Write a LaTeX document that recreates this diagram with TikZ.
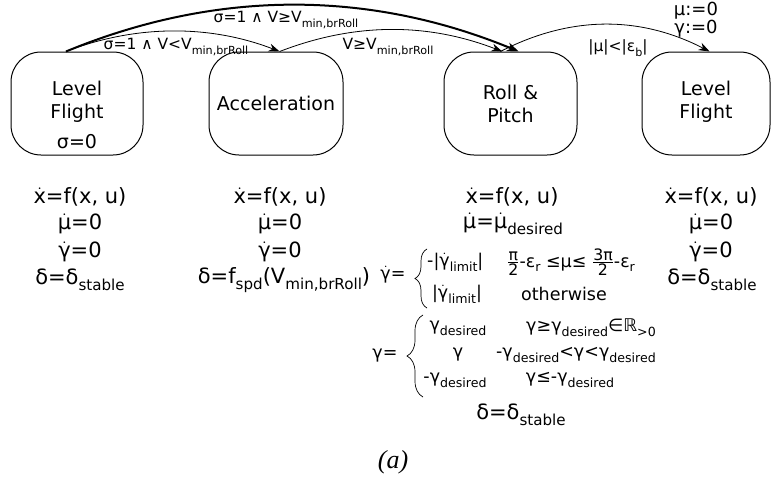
\documentclass[tikz,border=0pt]{standalone}
\usepackage{amsmath}
\usepackage{fontspec}
\setmainfont{DejaVu Sans}
\newfontfamily\capfont{Liberation Serif}
\usetikzlibrary{arrows.meta,decorations.pathreplacing}

% lowered, reduced index text
\newcommand\sbx[1]{\raisebox{-0.28em}{\scalebox{0.72}{#1}}}
% time derivative: dot over a symbol (dot kept out of the line height)
\newcommand\dt[1]{\ensuremath{\smash[t]{\dot{\hbox{#1}}}}\vphantom{#1}}
% stacked fraction built from text symbols
\newcommand\fr[2]{\ensuremath{\genfrac{}{}{0.7pt}{}{\hbox{\scalebox{0.9}{#1}}}{\hbox{\scalebox{0.9}{#2}}}}}

\begin{document}
\begin{tikzpicture}[x=1pt, y=-1pt,
  box/.style={draw, line width=1pt, rounded corners=30pt, minimum height=103pt, inner sep=0pt},
  lbl/.style={font=\fontsize{19}{23}\selectfont, align=center, inner sep=0pt},
  eq/.style={font=\fontsize{21}{26}\selectfont, inner sep=0pt},
  cs/.style={font=\fontsize{17.5}{20}\selectfont, inner sep=0pt},
  trl/.style={font=\fontsize{15.5}{17}\selectfont, inner sep=0pt, align=center},
  arr/.style={line width=0.8pt, -{Stealth[length=11pt,width=8pt]}},
  thickarr/.style={line width=2pt, -{Stealth[length=12pt,width=9pt]}},
  brc/.style={line width=0.7pt, decorate}]
\useasboundingbox (0,0) rectangle (771,482);

% states
\node[box, minimum width=132pt] (b1) at (77,103.5) {};
\node[box, minimum width=134pt] (b2) at (276,103.5) {};
\node[box, minimum width=133pt] (b3) at (510.5,103.5) {};
\node[box, minimum width=128pt] (b4) at (706,103.5) {};

\node[lbl] (l1) at (77,101.5) {Level\\Flight};
\node[lbl] (s1) at (77,142) {σ=0};
\node[lbl] (l2) at (276,103) {Acceleration};
\node[lbl] (l3) at (510.5,103.5) {Roll \&\\Pitch};
\node[lbl] (l4) at (706,101.5) {Level\\Flight};

% transitions
\draw[arr] (b1.102) .. controls +(70,-27) and +(-70,-27) .. (b2.86);
\draw[thickarr] (b1.102) .. controls +(150,-62) and +(-150,-62) .. (b3.81);
\draw[arr] (b2.86) .. controls +(75,-29) and +(-75,-29) .. (b3.99);
\draw[arr] (b3.101) .. controls +(70,-36) and +(-70,-36) .. (b4.86);

\node[trl] (t1) at (286,20) {σ=1 ∧ V≥V\sbx{min,brRoll}};
\node[trl] (t2) at (176,47) {σ=1 ∧ V<V\sbx{min,brRoll}};
\node[trl] (t3) at (388,47) {V≥V\sbx{min,brRoll}};
\node[trl] (t4) at (618,48) {|μ|<|ε\sbx{b}|};
\node[trl, font=\fontsize{18}{18}\selectfont] (t5) at (696,20) {μ:=0\\γ:=0};

% Level Flight dynamics
\node[eq] (a1) at (80,197) {\dt{x}=f(x, u)};
\node[eq] (a2) at (80,224) {\dt{μ}=0};
\node[eq] (a3) at (80,252) {\dt{γ}=0};
\node[eq] (a4) at (80,280) {δ=δ\sbx{stable}};

% Acceleration dynamics
\node[eq] (c1) at (280,197) {\dt{x}=f(x, u)};
\node[eq] (c2) at (280,224) {\dt{μ}=0};
\node[eq] (c3) at (280,252) {\dt{γ}=0};
\node[eq] (c4) at (284,280) {δ=f\sbx{spd}(V\sbx{min,brRoll})};

% Roll & Pitch dynamics
\node[eq] (r1) at (512,197) {\dt{x}=f(x, u)};
\node[eq] (r2) at (513,226) {\dt{μ}=\dt{μ}\sbx{desired}};

\node[cs] (gd) at (393,277) {\dt{γ}=};
\draw[brc, decoration={brace, amplitude=12pt}] (427,308) -- (427,249);
\node[cs, anchor=west] (gda) at (427,262) {-|\dt{γ}\sbx{limit}|};
\node[cs] (gdc) at (571,262) {\fr{π}{2}-ε\sbx{r} ≤μ≤ \fr{3π}{2}-ε\sbx{r}};
\node[cs] (gdb) at (457,294) {|\dt{γ}\sbx{limit}|};
\node[cs] (gdo) at (564,294) {otherwise};

\node[cs] (gg) at (385,356) {γ=};
\draw[brc, decoration={brace, amplitude=16pt}] (423,397) -- (423,315);
\node[cs] (gg1) at (458,328) {γ\sbx{desired}};
\node[cs] (gc1) at (591,328) {γ≥γ\sbx{desired}∈ℝ\sbx{>0}};
\node[cs] (gg2) at (458,355) {γ};
\node[cs] (gc2) at (576,355) {-γ\sbx{desired}<γ<γ\sbx{desired}};
\node[cs] (gg3) at (455,380) {-γ\sbx{desired}};
\node[cs] (gc3) at (570,380) {γ≤-γ\sbx{desired}};

\node[eq] (r5) at (521,415) {δ=δ\sbx{stable}};

% final Level Flight dynamics
\node[eq] (f1) at (711,197) {\dt{x}=f(x, u)};
\node[eq] (f2) at (711,224) {\dt{μ}=0};
\node[eq] (f3) at (711,252) {\dt{γ}=0};
\node[eq] (f4) at (712,280) {δ=δ\sbx{stable}};

\node[font=\capfont\itshape\fontsize{26}{28}\selectfont, inner sep=0pt] (cap) at (393,462) {(a)};
\end{tikzpicture}
\end{document}
